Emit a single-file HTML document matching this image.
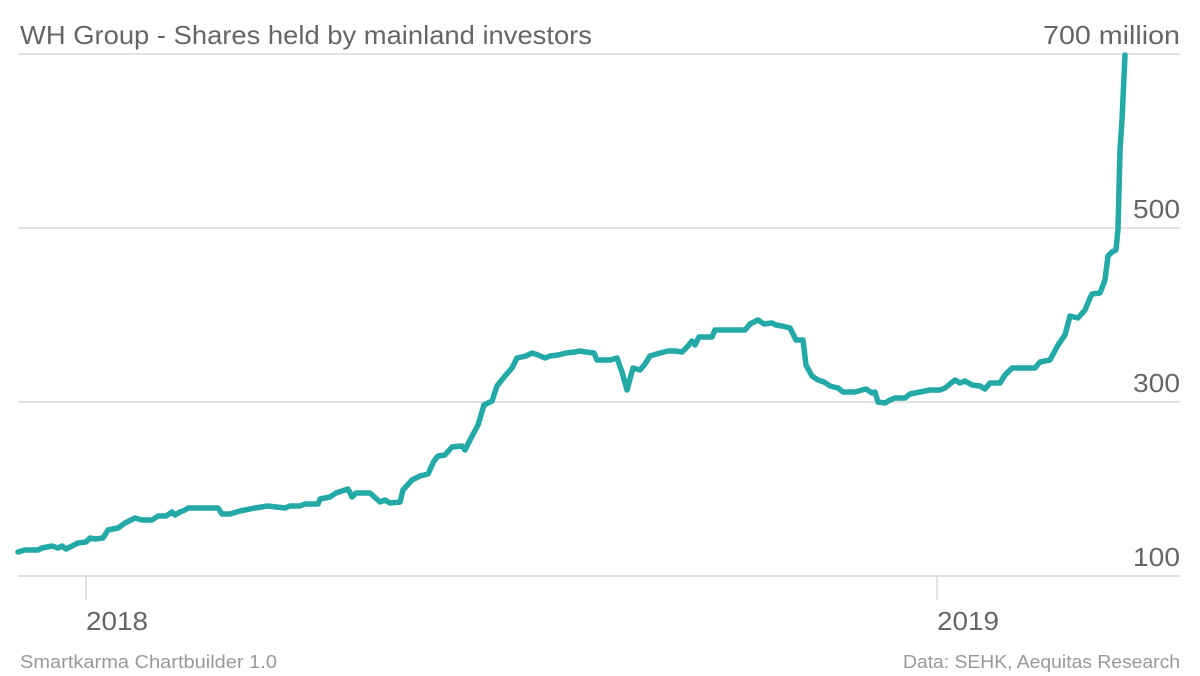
<!DOCTYPE html>
<html><head><meta charset="utf-8"><style>
body{margin:0;background:#fff;}
svg{display:block;font-family:"Liberation Sans",Arial,sans-serif;}
</style></head><body>
<svg width="1200" height="676" viewBox="0 0 1200 676">
<g stroke="#d9d9d9" stroke-width="1.5">
<line x1="18" y1="54" x2="1180" y2="54"/>
<line x1="18" y1="228" x2="1180" y2="228"/>
<line x1="18" y1="402" x2="1180" y2="402"/>
<line x1="18" y1="576" x2="1180" y2="576"/>
<line x1="86" y1="576" x2="86" y2="600"/>
<line x1="937" y1="576" x2="937" y2="600"/>
</g>
<text x="20" y="44" font-size="26" fill="#666" textLength="572" lengthAdjust="spacingAndGlyphs">WH Group - Shares held by mainland investors</text>
<g font-size="26" fill="#666">
<text x="1043" y="44" textLength="137" lengthAdjust="spacingAndGlyphs">700 million</text>
<text x="1133" y="218" textLength="47" lengthAdjust="spacingAndGlyphs">500</text>
<text x="1133" y="392" textLength="47" lengthAdjust="spacingAndGlyphs">300</text>
<text x="1133" y="566" textLength="47" lengthAdjust="spacingAndGlyphs">100</text>
</g>
<g font-size="26" fill="#666">
<text x="86" y="630" textLength="62" lengthAdjust="spacingAndGlyphs">2018</text>
<text x="937" y="630" textLength="62" lengthAdjust="spacingAndGlyphs">2019</text>
</g>
<text x="20" y="668" font-size="18" fill="#999" textLength="257" lengthAdjust="spacingAndGlyphs">Smartkarma Chartbuilder 1.0</text>
<text x="903" y="668" font-size="18" fill="#999" textLength="277" lengthAdjust="spacingAndGlyphs">Data: SEHK, Aequitas Research</text>
<polyline fill="none" stroke="#23a9a6" stroke-width="5.5" stroke-linejoin="round" stroke-linecap="round" points="18,552 25,550 38,550 42,548 52,546 58,548 62,546 66,549 72,546 78,543 86,542 90,538 95,539 103,538 108,530 118,528 125,523 135,518 142,520 152,520 158,516 166,516 172,512 175,515 180,512 185,510 188,508 218,508 222,514 230,514 240,511 255,508 268,506 285,508 290,506 300,506 305,504 318,504 320,499 330,497 336,493 348,489 352,497 356,493 370,493 380,502 385,500 390,503 400,502 403,490 412,480 420,476 428,474 434,461 438,456 445,455 452,447 462,446 465,450 470,440 478,425 484,405 492,401 497,386 505,376 512,368 517,358 526,356 532,353 538,355 545,358 550,356 558,355 566,353 575,352 580,351 586,352 594,353 597,360 610,360 617,358 622,372 627,390 633,368 640,370 645,364 650,356 660,353 668,351 675,351 682,352 688,346 692,341 695,345 699,337 712,337 715,330 745,330 750,324 758,320 764,324 772,323 776,325 782,326 790,328 796,340 803,340 806,365 812,376 818,380 824,382 830,386 838,388 843,392 855,392 862,390 866,389 872,393 875,392 878,402 885,403 890,400 895,398 905,398 910,394 920,392 930,390 940,390 945,388 950,384 955,380 960,383 965,381 972,385 980,386 985,389 990,383 1000,383 1005,375 1012,368 1035,368 1040,362 1050,360 1058,345 1065,335 1070,316 1078,318 1085,310 1090,298 1092,294 1100,293 1105,280 1108,256 1112,252 1116,250 1118,229 1120,150 1122,120 1125,55"/>
</svg>
</body></html>
